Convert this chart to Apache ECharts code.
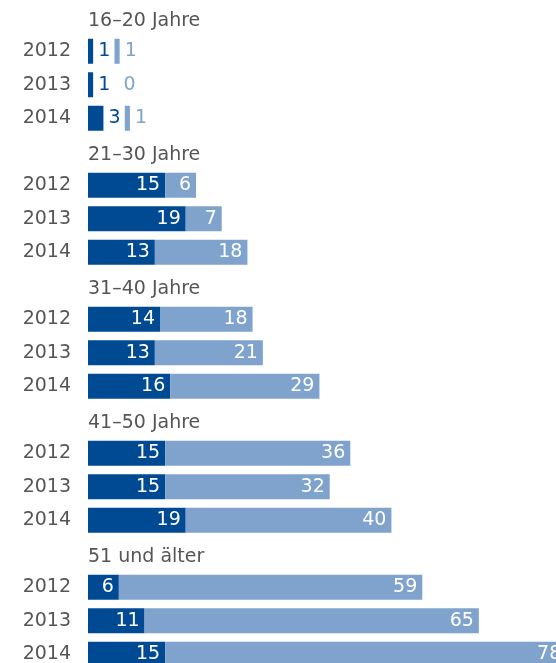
<!DOCTYPE html>
<html>
<head>
<meta charset="utf-8">
<script src="https://cdn.jsdelivr.net/npm/echarts@6/dist/echarts.min.js"></script>
<style>
html,body{margin:0;padding:0;background:#fff;}
#chart{width:556px;height:663px;}
</style>
</head>
<body>
<div id="chart"></div>
<script>
// ---- data ----
const groups = ['16–20 Jahre', '21–30 Jahre', '31–40 Jahre', '41–50 Jahre', '51 und älter'];
const years = ['2012', '2013', '2014'];
const darkValues = [
  [1, 1, 3],
  [15, 19, 13],
  [14, 13, 16],
  [15, 15, 19],
  [6, 11, 15]
];
const lightValues = [
  [1, 0, 1],
  [6, 7, 18],
  [18, 21, 29],
  [36, 32, 40],
  [59, 65, 78]
];

// ---- styles ----
const DARK = '#004a94';
const LIGHT = '#7fa3cc';
const TEXT = '#555555';
const FONT = '"DejaVu Sans", Verdana, sans-serif';
const FS = 19;
const SMALL = 5;      // values below this get outside labels
const GAP = 4.15;     // spacer (axis units) after an outside dark label

// ---- build rows ----
const cats = [], catLabel = [], headerData = [], darkData = [], spacerData = [], lightData = [];
groups.forEach((g, gi) => {
  cats.push('h' + gi); catLabel.push('');
  headerData.push({ value: 0, label: { show: true, formatter: g } });
  darkData.push('-'); spacerData.push('-'); lightData.push('-');
  years.forEach((y, yi) => {
    cats.push('r' + gi + '_' + yi); catLabel.push(y);
    headerData.push('-');
    const d = darkValues[gi][yi], l = lightValues[gi][yi];
    const dSmall = d < SMALL;
    darkData.push({
      value: d,
      label: dSmall
        ? { position: 'right', color: DARK, distance: 5 }
        : { position: 'insideRight', color: '#fff', distance: 5 }
    });
    spacerData.push(dSmall ? GAP : 0);
    const lSmall = l < SMALL;
    lightData.push({
      value: l,
      label: lSmall
        ? { position: 'right', color: LIGHT, distance: l === 0 ? 9 : 5 }
        : { position: 'insideRight', color: '#fff', distance: 5 }
    });
  });
});

const chart = echarts.init(document.getElementById('chart'), null, { renderer: 'canvas' });
const barCommon = { type: 'bar', stack: 'all', barWidth: 25, clip: false, animation: false };
chart.setOption({
  animation: false,
  textStyle: { fontFamily: FONT },
  grid: { left: 88, right: 0, top: 1, height: 670, containLabel: false, outerBoundsMode: 'none' },
  xAxis: { type: 'value', min: 0, max: 91, show: false },
  yAxis: {
    type: 'category', data: cats, inverse: true,
    axisLine: { show: false }, axisTick: { show: false }, splitLine: { show: false },
    axisLabel: {
      margin: 17, color: TEXT, fontFamily: FONT, fontSize: FS,
      formatter: (v, i) => catLabel[i]
    }
  },
  series: [
    Object.assign({}, barCommon, {
      name: 'header', data: headerData, silent: true,
      itemStyle: { color: 'transparent' },
      label: { show: true, position: 'right', distance: 0, offset: [0, 3.5],
               color: TEXT, fontFamily: FONT, fontSize: FS }
    }),
    Object.assign({}, barCommon, {
      name: 'dark', data: darkData,
      itemStyle: { color: DARK },
      label: { show: true, fontFamily: FONT, fontSize: FS }
    }),
    Object.assign({}, barCommon, {
      name: 'spacer', data: spacerData, silent: true,
      itemStyle: { color: 'transparent' }, label: { show: false }
    }),
    Object.assign({}, barCommon, {
      name: 'light', data: lightData,
      itemStyle: { color: LIGHT },
      label: { show: true, fontFamily: FONT, fontSize: FS }
    })
  ]
});
</script>
</body>
</html>
